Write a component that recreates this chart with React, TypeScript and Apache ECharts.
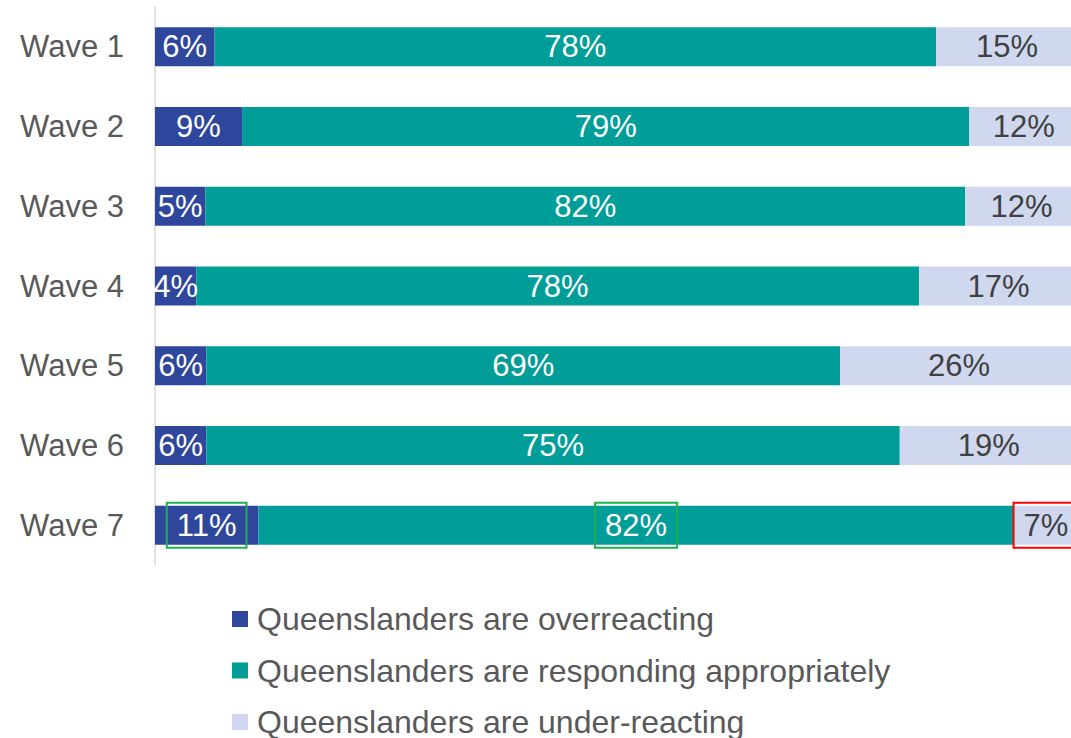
import React, { useEffect, useRef } from "react";
import * as echarts from "echarts";

const waves = ["Wave 1", "Wave 2", "Wave 3", "Wave 4", "Wave 5", "Wave 6", "Wave 7"];
const seriesNames = [
  "Queenslanders are overreacting",
  "Queenslanders are responding appropriately",
  "Queenslanders are under-reacting",
];
const overreacting = [6.45, 9.43, 5.45, 4.47, 5.56, 5.56, 11.19];
const appropriate = [78.19, 78.8, 82.31, 78.3, 68.66, 75.13, 81.87];
const underreacting = [15.36, 11.77, 12.24, 17.23, 25.78, 19.31, 6.94];
// index of highlighted wave and box colour per series
const highlightIndex = 6;
const highlightColors = ["#1FB04B", "#1FB04B", "#FF0000"];

const colors = ["#2E469B", "#009D99", "#CFD8EF"];
const labelColors = ["#FFFFFF", "#FFFFFF", "#404040"];
const FONT = "'Liberation Sans', Arial, Helvetica, sans-serif";

export default function App() {
  const ref = useRef<HTMLDivElement>(null);
  useEffect(() => {
    if (!ref.current) return;
    const chart = echarts.init(ref.current, null, { renderer: "svg" });
    const all = [overreacting, appropriate, underreacting];
    const series = all.map((vals, si) => ({
      name: seriesNames[si],
      type: "bar",
      stack: "total",
      barWidth: 39,
      itemStyle: { color: colors[si] },
      label: {
        show: true,
        position: "inside",
        color: labelColors[si],
        fontSize: 31,
        fontFamily: FONT,
        formatter: (p: any) => Math.round(p.value) + "%",
      },
      data: vals.map((v, i) =>
        i === highlightIndex
          ? {
              value: v,
              label: {
                borderColor: highlightColors[si],
                borderWidth: 2,
                padding: [7, 10],
              },
            }
          : v
      ),
    }));
    chart.setOption({
      animation: false,
      grid: { left: 155, top: 7, width: 923, height: 558 },
      xAxis: {
        type: "value",
        min: 0,
        max: 100,
        show: false,
        splitLine: { show: false },
      },
      yAxis: {
        type: "category",
        data: waves,
        inverse: true,
        axisTick: { show: false },
        axisLine: { show: true, lineStyle: { color: "#D9D9D9", width: 1.5 } },
        axisLabel: { fontSize: 31, color: "#595959", fontFamily: FONT, margin: 31 },
      },
      legend: {
        orient: "vertical",
        left: 232,
        top: 603,
        height: 400,
        padding: 0,
        itemWidth: 16,
        itemHeight: 16,
        itemGap: 19.5,
        icon: "rect",
        data: seriesNames,
        textStyle: {
          fontSize: 32,
          color: "#595959",
          fontFamily: FONT,
          padding: [0, 0, 0, 4],
        },
      },
      series,
    });
    return () => chart.dispose();
  }, []);
  return (
    <div
      style={{ position: "fixed", left: 0, top: 0, width: 1071, height: 738, overflow: "hidden", background: "#fff" }}
    >
      <div ref={ref} style={{ width: 1080, height: 738 }} />
    </div>
  );
}
